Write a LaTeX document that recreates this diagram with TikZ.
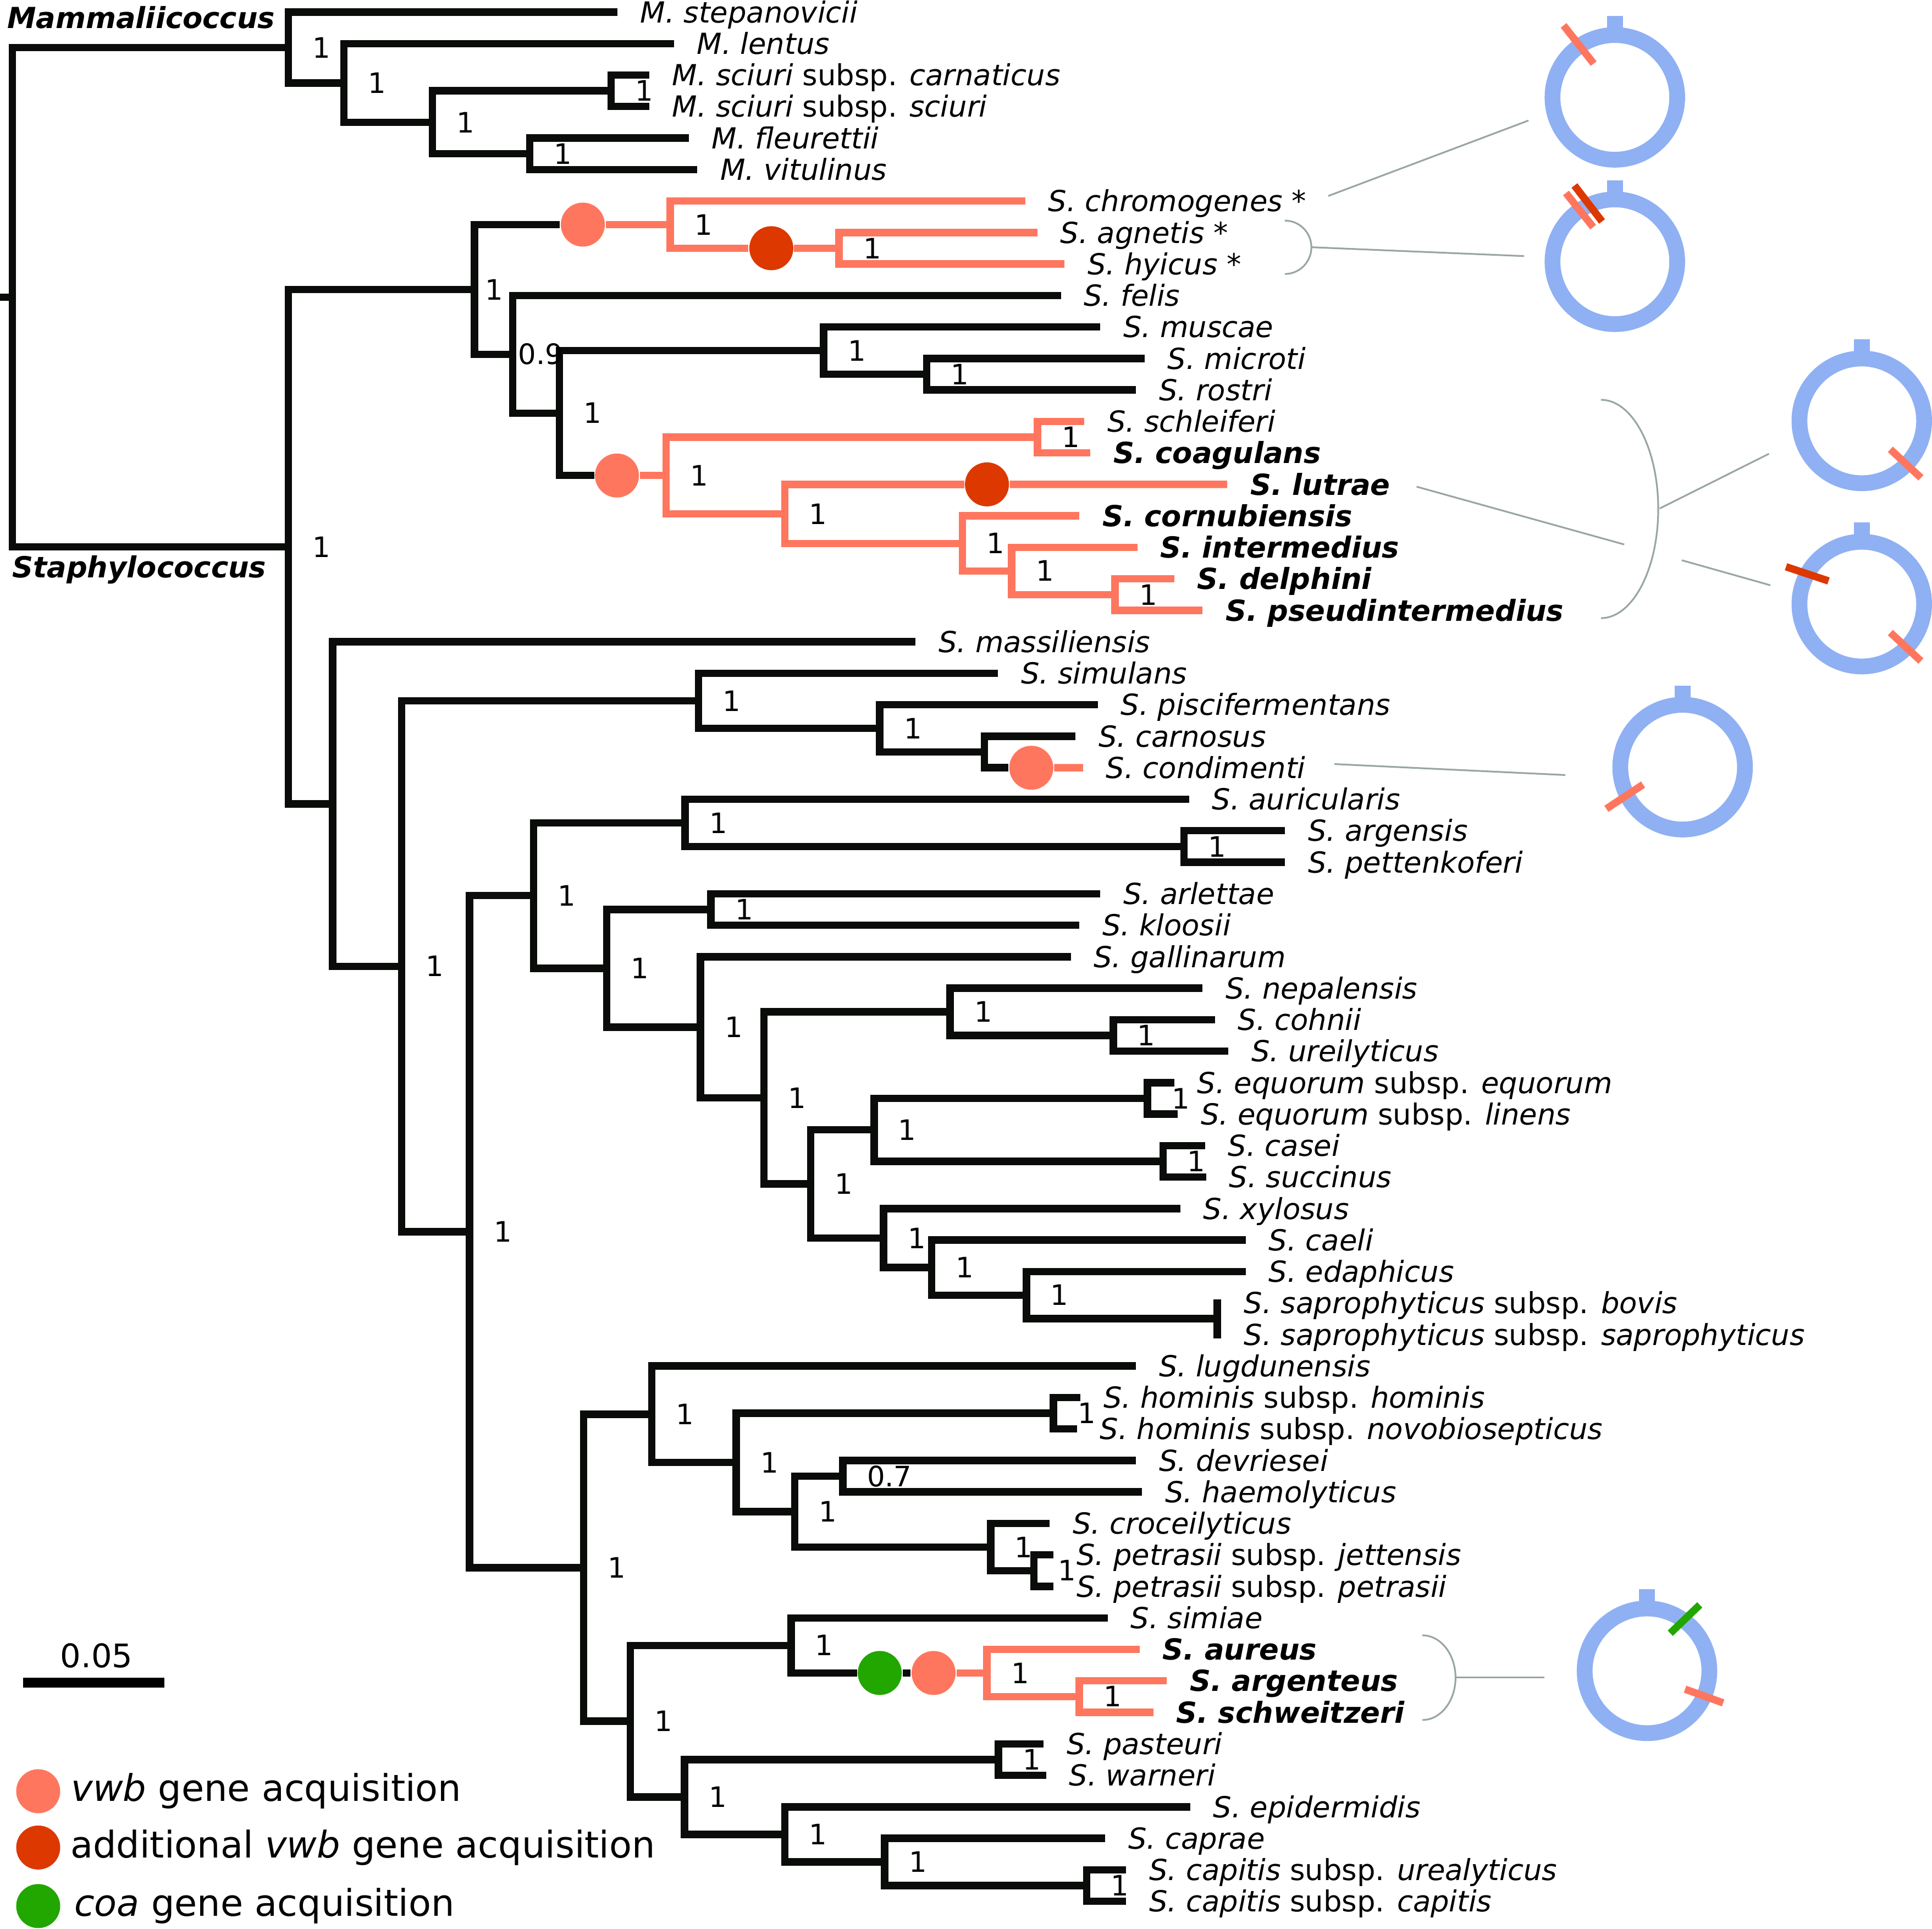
\documentclass[tikz,border=0pt]{standalone}
\usepackage{fontspec}
\setmainfont{DejaVu Sans}
\usepackage{tikz}
\usetikzlibrary{positioning, calc}
\definecolor{vwborange}{HTML}{FF765F}
\definecolor{vwbred}{HTML}{DC3800}
\definecolor{coagreen}{HTML}{22A600}
\definecolor{ringblue}{HTML}{8FB0F3}
\definecolor{linkgray}{HTML}{98A6A0}
\definecolor{treeblack}{HTML}{0A0C0A}

\begin{document}
\begin{tikzpicture}[
    x=0.1mm, y=-0.1mm,
    branch/.style={draw=treeblack, line width=0.6mm},
    vwb/.style={draw=vwborange, line width=0.6mm},
    leaf/.style={font=\fontsize{6.7}{8}\selectfont\itshape, inner sep=0pt,
                 text height=4.88pt, text depth=0pt},
    supp/.style={font=\fontsize{6.5}{8}\selectfont, inner sep=0pt},
    event/.style={circle, inner sep=0pt, minimum size=3.57mm},
    ring/.style={draw=ringblue, line width=1.28mm},
    genetick/.style={line width=0.6mm},
    link/.style={draw=linkgray, line width=0.14mm},
    clade/.style={font=\fontsize{6.7}{8}\selectfont\bfseries\itshape},
    keytext/.style={font=\fontsize{8.5}{10}\selectfont, inner sep=0pt},
]
\useasboundingbox (0,0) rectangle (1568,1565);

% internal nodes of the tree
\foreach \n/\x/\y in {root/10/241.1,
    m1/234/38.55, m2/279/67.3, m3/351/99.25, m4/496/73.7, m5/430/124.8,
    s1/234/443.7,
    a1/385/234.9, a2/544/182.25, a4/681/201.4, a3/416/287.5, a5/454/335.2,
    a6/668.5/284.5, a8/752/303.6, a7/540.5/385.85, a9/842/354.7,
    a10/637/417, a11/781/440.95, a12/821/463.3, a13/905/482.5,
    b1/270/652.45, b2/326/784.1, b3/567/568.7, b5/714/591.05,
    b6/799/610.2, b4/381/999.45,
    c1/433/726.75, c2/556/667.7, c4/961/686.9, c3/492.5/785.8, c5/577/738,
    c6/568.5/833.6, c7/620/890.9, c8/771/821, c10/903.5/840.2,
    c9/658/960.75, c11/709.4/916.85, c13/931.3/891.3, c14/944/942.4,
    c12/717/1004.65, c15/756/1028.6, c16/833/1050.95, c17/988/1070.1,
    d1/473.7/1272.15, d2/529/1147.6, d4/597.5/1186.7, d5/855/1146.8,
    d6/645/1226.6, d7/684/1197.9, d8/804/1255.35, d9/839/1274.5,
    d3/511.6/1396.7, d10/642/1335.2, d12/801/1357.55, d13/876/1376.7,
    d11/555.5/1458.15, d14/810.4/1427.8, d15/637/1488.5,
    d16/718/1510.85, d17/882/1530}
    \coordinate (\n) at (\x,\y);
\coordinate (stem) at (0,241.1);

% leaves
\foreach \i/\x/\n/\lab in {
    0/501/stepan/{M. stepanovicii},
    1/547/lentus/{M. lentus},
    2/527/carnat/{M. sciuri \textup{subsp.} carnaticus},
    3/527/sciuri/{M. sciuri \textup{subsp.} sciuri},
    4/559/fleur/{M. fleurettii},
    5/566/vitul/{M. vitulinus},
    6/832/chromo/{S. chromogenes *},
    7/842/agnet/{S. agnetis *},
    8/864/hyicus/{S. hyicus *},
    9/861/felis/{S. felis},
    10/893/muscae/{S. muscae},
    11/929/microti/{S. microti},
    12/922/rostri/{S. rostri},
    13/880/schleif/{S. schleiferi},
    14/885/coagul/{\textbf{S. coagulans}},
    15/996/lutrae/{\textbf{S. lutrae}},
    16/876/cornub/{\textbf{S. cornubiensis}},
    17/923/interm/{\textbf{S. intermedius}},
    18/953/delph/{\textbf{S. delphini}},
    19/976/pseudi/{\textbf{S. pseudintermedius}},
    20/743/massil/{S. massiliensis},
    21/810/simul/{S. simulans},
    22/891/piscif/{S. piscifermentans},
    23/873/carnos/{S. carnosus},
    24/879/condim/{S. condimenti},
    25/965/auric/{S. auricularis},
    26/1043/argens/{S. argensis},
    27/1043/petten/{S. pettenkoferi},
    28/893/arlet/{S. arlettae},
    29/876/kloos/{S. kloosii},
    30/869/gallin/{S. gallinarum},
    31/976/nepal/{S. nepalensis},
    32/986/cohnii/{S. cohnii},
    33/997/ureil/{S. ureilyticus},
    34/953/equor/{S. equorum \textup{subsp.} equorum},
    35/956/linens/{S. equorum \textup{subsp.} linens},
    36/978/casei/{S. casei},
    37/979/succin/{S. succinus},
    38/958/xylos/{S. xylosus},
    39/1011/caeli/{S. caeli},
    40/1011/edaph/{S. edaphicus},
    41/991/bovis/{S. saprophyticus \textup{subsp.} bovis},
    42/991/sapro/{S. saprophyticus \textup{subsp.} saprophyticus},
    43/922/lugdun/{S. lugdunensis},
    44/877/homin/{S. hominis \textup{subsp.} hominis},
    45/874/novob/{S. hominis \textup{subsp.} novobiosepticus},
    46/922/devri/{S. devriesei},
    47/927/haemo/{S. haemolyticus},
    48/852/crocei/{S. croceilyticus},
    49/855/jetten/{S. petrasii \textup{subsp.} jettensis},
    50/855/petras/{S. petrasii \textup{subsp.} petrasii},
    51/899/simiae/{S. simiae},
    52/925/aureus/{\textbf{S. aureus}},
    53/947/argent/{\textbf{S. argenteus}},
    54/936/schwei/{\textbf{S. schweitzeri}},
    55/847/paste/{S. pasteuri},
    56/849/warn/{S. warneri},
    57/966/epid/{S. epidermidis},
    58/897/caprae/{S. caprae},
    59/914/urealy/{S. capitis \textup{subsp.} urealyticus},
    60/914/capcap/{S. capitis \textup{subsp.} capitis}} {
    \coordinate (\n) at (\x,{9.8+25.55*\i});
    \node[leaf, right=1.8mm of \n] (l-\n) {\lab};
}

% gene acquisition events
\node[event, fill=vwborange] (dot1) at (473,182.25) {};
\node[event, fill=vwbred] (dot2) at (626,201.4) {};
\node[event, fill=vwborange] (dot3) at (500.7,385.85) {};
\node[event, fill=vwbred] (dot4) at (801,393.05) {};
\node[event, fill=vwborange] (dot5) at (837,623) {};
\node[event, fill=coagreen] (dotg) at (714,1357.55) {};
\node[event, fill=vwborange] (dot6) at (757.7,1357.55) {};

% branches
\draw[branch] (stem) -- (root);
\foreach \p/\c in {root/m1, root/s1, m1/stepan, m1/m2, m2/lentus, m2/m3,
    m3/m4, m3/m5, m4/carnat, m4/sciuri, m5/fleur, m5/vitul,
    s1/a1, s1/b1, a1/dot1, a1/a3, a3/felis, a3/a5, a5/a6, a5/dot3,
    a6/muscae, a6/a8, a8/microti, a8/rostri,
    b1/massil, b1/b2, b2/b3, b2/b4, b3/simul, b3/b5, b5/piscif, b5/b6,
    b6/carnos, b6/dot5, b4/c1, b4/d1, c1/c2, c1/c3, c2/auric, c2/c4,
    c4/argens, c4/petten, c3/c5, c3/c6, c5/arlet, c5/kloos,
    c6/gallin, c6/c7, c7/c8, c7/c9, c8/nepal, c8/c10, c10/cohnii, c10/ureil,
    c9/c11, c9/c12, c11/c13, c11/c14, c13/equor, c13/linens,
    c14/casei, c14/succin, c12/xylos, c12/c15, c15/caeli, c15/c16,
    c16/edaph, c16/c17, c17/bovis, c17/sapro,
    d1/d2, d1/d3, d2/lugdun, d2/d4, d4/d5, d4/d6, d5/homin, d5/novob,
    d6/d7, d6/d8, d7/devri, d7/haemo, d8/crocei, d8/d9,
    d9/jetten, d9/petras, d3/d10, d3/d11, d10/simiae, d10/dotg,
    d11/d14, d11/d15, d14/paste, d14/warn, d15/epid, d15/d16,
    d16/caprae, d16/d17, d17/urealy, d17/capcap}
    \draw[branch] (\p) |- (\c);
\draw[branch] (dotg) -- (dot6);
\foreach \p/\c in {a2/chromo, a2/dot2, a4/agnet, a4/hyicus,
    a7/a9, a7/a10, a9/schleif, a9/coagul, a10/dot4, a10/a11,
    a11/cornub, a11/a12, a12/interm, a12/a13, a13/delph, a13/pseudi,
    d12/aureus, d12/d13, d13/argent, d13/schwei}
    \draw[vwb] (\p) |- (\c);
\draw[vwb] (dot1) -- (a2);
\draw[vwb] (dot2) -- (a4);
\draw[vwb] (dot3) -- (a7);
\draw[vwb] (dot4) -- (lutrae);
\draw[vwb] (dot5) -- (condim);
\draw[vwb] (dot6) -- (d12);

% support values
\foreach \n in {m1, m2, m3, m4, m5, s1, a2, a4, a5, a6, a7, a8, a9, a10,
    a11, a12, a13, b2, b3, b5, b4, c1, c2, c3, c4, c5, c6, c7, c8, c9,
    c10, c11, c12, c13, c14, c15, c16, d1, d2, d3, d4, d5, d6, d8, d9,
    d10, d11, d12, d13, d14, d15, d16, d17}
    \node[supp, right=1.9mm of \n] (s-\n) {1};
\node[supp, right=0.8mm of a1] (s-a1) {1};
\node[supp, right=0.4mm of a3] (s-a3) {0.9};
\node[supp, right=1.9mm of d7] (s-d7) {0.7};

% genus names
\node[clade] (mamlab) at (114.5,14) {Mammaliicoccus};
\node[clade] (stalab) at (113,462.5) {Staphylococcus};

% scale bar
\coordinate (sbl) at (18.9,1365.4);
\coordinate (sbr) at (133.4,1365.4);
\draw[line width=0.76mm] (sbl) -- (sbr);
\node[font=\fontsize{7.5}{9}\selectfont, inner sep=0pt] (sblab) at (78.3,1343.5) {0.05};

% legend
\node[event, fill=vwborange] (key1) at (31,1453.5) {};
\node[event, fill=vwbred] (key2) at (31,1499.2) {};
\node[event, fill=coagreen] (key3) at (31,1546.7) {};
\node[keytext, right=0.75mm of key1] (keyl1) {\textit{vwb} gene acquisition};
\node[keytext, right=0.7mm of key2] (keyl2) {additional \textit{vwb} gene acquisition};
\node[keytext, right=1.0mm of key3] (keyl3) {\textit{coa} gene acquisition};

% genome rings
\foreach \n/\x/\y in {r1/1310.6/79, r2/1310.6/212.4, r3/1511/341.5,
    r4/1511/490.2, r5/1365.6/622.5, r6/1336.7/1355.8} {
    \coordinate (\n) at (\x,\y);
    \draw[ring] (\n) circle[radius=5.06mm];
    \draw[draw=ringblue, line width=1.28mm] ($(\n)+(0,-55)$) -- ($(\n)+(0,-66.2)$);
}
\draw[genetick, vwborange] ($(r1)+(-41.6,-58.4)$) -- ($(r1)+(-17.2,-27.4)$);
\draw[genetick, vwborange] ($(r2)+(-39.7,-55.8)$) -- ($(r2)+(-17.6,-28.1)$);
\draw[genetick, vwbred] ($(r2)+(-32.8,-61.9)$) -- ($(r2)+(-10.4,-32.7)$);
\draw[genetick, vwborange] ($(r3)+(23.2,23.1)$) -- ($(r3)+(48,46.2)$);
\draw[genetick, vwbred] ($(r4)+(-61.5,-30.3)$) -- ($(r4)+(-27,-18.8)$);
\draw[genetick, vwborange] ($(r4)+(23.2,23.1)$) -- ($(r4)+(48,46.2)$);
\draw[genetick, vwborange] ($(r5)+(-61.9,33.8)$) -- ($(r5)+(-32.1,14.1)$);
\draw[genetick, coagreen] ($(r6)+(18.9,-30.5)$) -- ($(r6)+(42.8,-53.5)$);
\draw[genetick, vwborange] ($(r6)+(30.9,14.9)$) -- ($(r6)+(61.8,26)$);

% links from species to rings
\coordinate (k1a) at (1078,159);
\coordinate (k1b) at (1240.5,97.8);
\draw[link] (k1a) -- (k1b);
\coordinate (br2) at (1042.8,179);
\draw[link] (br2) arc[start angle=90, end angle=-90, x radius=2.15mm, y radius=2.165mm];
\coordinate (k2a) at (1064.3,200.6);
\coordinate (k2b) at (1237,207.8);
\draw[link] (k2a) -- (k2b);
\coordinate (br3) at (1299.3,324.4);
\draw[link] (br3) arc[start angle=90, end angle=-90, x radius=4.65mm, y radius=8.86mm];
\coordinate (k3a) at (1149.7,394.9);
\coordinate (k3b) at (1318.2,441.8);
\draw[link] (k3a) -- (k3b);
\coordinate (k4a) at (1347,412.6);
\coordinate (k4b) at (1435.7,368.2);
\draw[link] (k4a) -- (k4b);
\coordinate (k5a) at (1364.9,454.6);
\coordinate (k5b) at (1436.8,474.9);
\draw[link] (k5a) -- (k5b);
\coordinate (k6a) at (1083,620);
\coordinate (k6b) at (1270.3,628.9);
\draw[link] (k6a) -- (k6b);
\coordinate (br6) at (1154.4,1327);
\draw[link] (br6) arc[start angle=90, end angle=-90, x radius=2.69mm, y radius=3.435mm];
\coordinate (k7a) at (1181.3,1361.3);
\coordinate (k7b) at (1253.6,1361.3);
\draw[link] (k7a) -- (k7b);

\end{tikzpicture}
\end{document}
